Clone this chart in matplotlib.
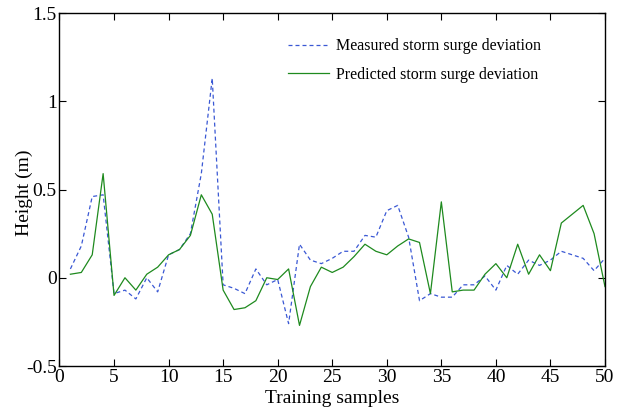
import numpy as np
import matplotlib.pyplot as plt

plt.rcParams['font.family'] = ['Liberation Serif', 'DejaVu Serif']
plt.rcParams['axes.unicode_minus'] = False

# training sample index and storm surge deviation (m)
samples = np.arange(1, 51)
measured = [0.05, 0.18, 0.46, 0.47, -0.09, -0.07, -0.12, 0.00, -0.08, 0.13,
            0.16, 0.25, 0.59, 1.13, -0.04, -0.06, -0.09, 0.05, -0.04, -0.01,
            -0.26, 0.19, 0.10, 0.08, 0.11, 0.15, 0.15, 0.24, 0.23, 0.38,
            0.41, 0.23, -0.13, -0.09, -0.11, -0.11, -0.04, -0.04, 0.01, -0.07,
            0.07, 0.02, 0.10, 0.07, 0.10, 0.15, 0.13, 0.11, 0.04, 0.11]
predicted = [0.02, 0.03, 0.13, 0.59, -0.10, 0.00, -0.07, 0.02, 0.06, 0.13,
             0.16, 0.24, 0.47, 0.36, -0.07, -0.18, -0.17, -0.13, 0.00, -0.01,
             0.05, -0.27, -0.05, 0.06, 0.03, 0.06, 0.12, 0.19, 0.15, 0.13,
             0.18, 0.22, 0.20, -0.09, 0.43, -0.08, -0.07, -0.07, 0.02, 0.08,
             0.00, 0.19, 0.02, 0.13, 0.04, 0.31, 0.36, 0.41, 0.25, -0.05]

fig = plt.figure(figsize=(6.21, 4.17), dpi=100)
ax = fig.add_axes([0.0958, 0.1223, 0.8784, 0.8465])

ax.plot(samples, measured, color='#3a58d4', lw=0.9, dashes=(3.2, 2.4),
        label='Measured storm surge deviation')
ax.plot(samples, predicted, color='#1e8a1e', lw=0.9,
        label='Predicted storm surge deviation')

ax.set_xlim(0, 50)
ax.set_ylim(-0.5, 1.5)
ax.set_xticks(np.arange(0, 51, 5))
ax.set_yticks([-0.5, 0, 0.5, 1, 1.5])
ax.set_yticklabels(['-0.5', '0', '0.5', '1', '1.5'])
ax.tick_params(direction='in', top=True, right=True, length=5, width=0.8,
               labelsize=14, pad=2)
for s in ax.spines.values():
    s.set_linewidth(1.0)

ax.set_xlabel('Training samples', fontsize=14, labelpad=3)
ax.set_ylabel('Height (m)', fontsize=14)
# label sits close to the axis, overlapping the tick label column like the original
ax.yaxis.set_label_coords(-0.049, 0.49)

ax.legend(loc='upper left', bbox_to_anchor=(0.407, 0.947), frameon=False,
          fontsize=11.5, handlelength=2.6, handletextpad=0.4,
          labelspacing=0.8, borderaxespad=0)

fig.savefig('out.png', dpi=100)
